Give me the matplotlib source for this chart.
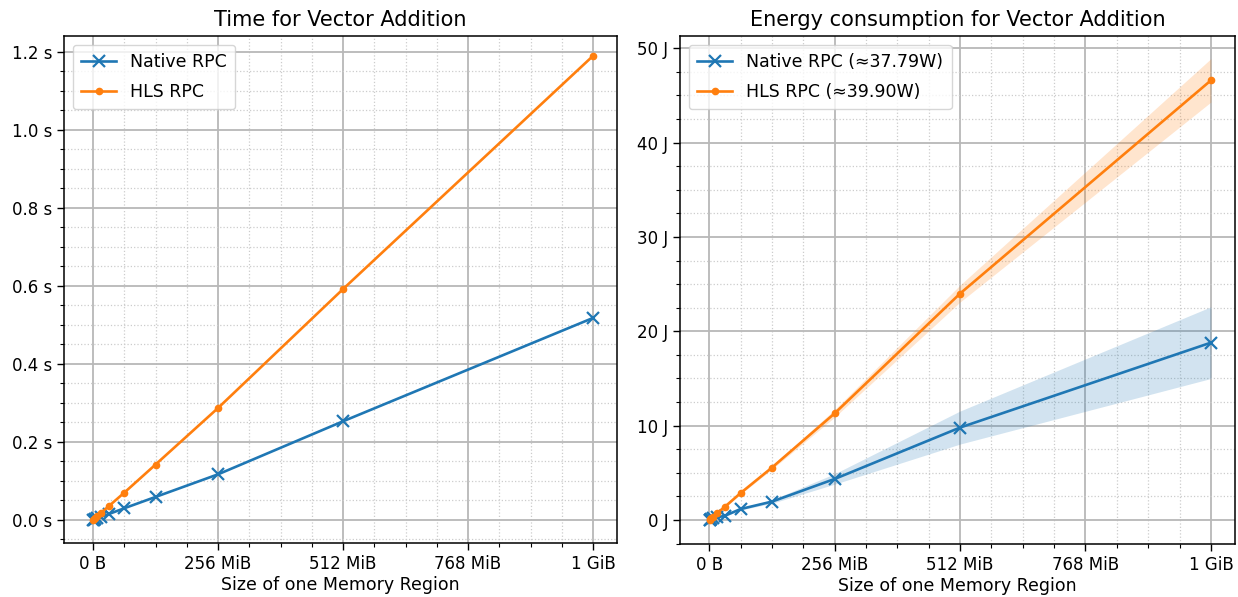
"""
Vector addition benchmark: time and energy, Native RPC vs HLS RPC.
"""

import matplotlib
matplotlib.use('Agg')
import matplotlib.pyplot as plt
from matplotlib.ticker import AutoMinorLocator, FuncFormatter, MultipleLocator
import numpy as np

MiB = 1024 ** 2
GiB = 1024 ** 3

# Size of one memory region (MiB)
sizes_mib = [1, 2, 4, 8, 16, 32, 64, 128, 256, 512, 1024]

# Time (s)
time_native = [0.0005, 0.001, 0.002, 0.004, 0.008, 0.015, 0.030, 0.059, 0.117, 0.253, 0.518]
time_hls = [0.001, 0.002, 0.0045, 0.009, 0.018, 0.035, 0.070, 0.142, 0.287, 0.592, 1.190]

# Energy (J) and spread
energy_native = [0.03, 0.05, 0.10, 0.18, 0.28, 0.45, 1.16, 1.95, 4.35, 9.8, 18.8]
energy_native_sd = [0.02, 0.02, 0.03, 0.04, 0.05, 0.07, 0.10, 0.18, 0.55, 1.75, 3.8]
energy_hls = [0.05, 0.09, 0.18, 0.36, 0.72, 1.40, 2.85, 5.55, 11.3, 24.0, 46.6]
energy_hls_sd = [0.01, 0.02, 0.03, 0.05, 0.08, 0.10, 0.12, 0.18, 0.40, 0.90, 2.3]

label_native = 'Native RPC'
label_hls = 'HLS RPC'
power_native = 37.79
power_hls = 39.90

x_ticks = [0, 256 * MiB, 512 * MiB, 768 * MiB, GiB]
x_ticklabels = ['0 B', '256 MiB', '512 MiB', '768 MiB', '1 GiB']

blue = '#1f77b4'
orange = '#ff7f0e'

x = np.array(sizes_mib) * MiB

fig = plt.figure(figsize=(12.38, 5.97), dpi=100)
ax1 = fig.add_axes([0.0517, 0.0905, 0.4467, 0.8492])
ax2 = fig.add_axes([0.5493, 0.0888, 0.4483, 0.8509])

line_kw = dict(linewidth=1.9)

# Left: time
ax1.plot(x, time_native, color=blue, marker='x', markersize=8, markeredgewidth=1.6,
         label=label_native, **line_kw)
ax1.plot(x, time_hls, color=orange, marker='.', markersize=9,
         label=label_hls, **line_kw)
ax1.set_ylim(-0.059, 1.241)
ax1.yaxis.set_major_locator(MultipleLocator(0.2))
ax1.yaxis.set_major_formatter(FuncFormatter(lambda v, p: f'{v:.1f} s'))
ax1.set_title('Time for Vector Addition', fontsize=15, pad=7)

# Right: energy with spread band
en = np.array(energy_native)
en_sd = np.array(energy_native_sd)
eh = np.array(energy_hls)
eh_sd = np.array(energy_hls_sd)
ax2.fill_between(x, en - en_sd, en + en_sd, color=blue, alpha=0.2, linewidth=0)
ax2.fill_between(x, eh - eh_sd, eh + eh_sd, color=orange, alpha=0.2, linewidth=0)
ax2.plot(x, energy_native, color=blue, marker='x', markersize=8, markeredgewidth=1.6,
         label=f'{label_native} (≈{power_native:.2f}W)', **line_kw)
ax2.plot(x, energy_hls, color=orange, marker='.', markersize=9,
         label=f'{label_hls} (≈{power_hls:.2f}W)', **line_kw)
ax2.set_ylim(-2.54, 51.3)
ax2.yaxis.set_major_locator(MultipleLocator(10))
ax2.yaxis.set_major_formatter(FuncFormatter(lambda v, p: f'{v:.0f} J'))
ax2.set_title('Energy consumption for Vector Addition', fontsize=15, pad=7)

for ax in (ax1, ax2):
    ax.set_xlim(-0.058 * GiB, 1.048 * GiB)
    ax.set_xticks(x_ticks)
    ax.set_xticklabels(x_ticklabels)
    ax.xaxis.set_minor_locator(AutoMinorLocator(4))
    ax.yaxis.set_minor_locator(AutoMinorLocator(4))
    ax.set_xlabel('Size of one Memory Region', fontsize=12.5, labelpad=2)
    ax.tick_params(which='major', labelsize=12, length=5, width=1)
    ax.tick_params(which='minor', length=3, width=0.8)
    ax.grid(which='major', color='#b8b8b8', linewidth=1.3)
    ax.grid(which='minor', color='#cccccc', linestyle=':', linewidth=0.9)
    ax.set_axisbelow(True)
    for s in ax.spines.values():
        s.set_linewidth(1.1)
    ax.legend(loc='upper left', fontsize=12.5, handlelength=2.0,
              labelspacing=0.65, borderpad=0.5,
              borderaxespad=0.5, framealpha=0.8)

fig.savefig('out.png', dpi=100)
print('saved out.png')
